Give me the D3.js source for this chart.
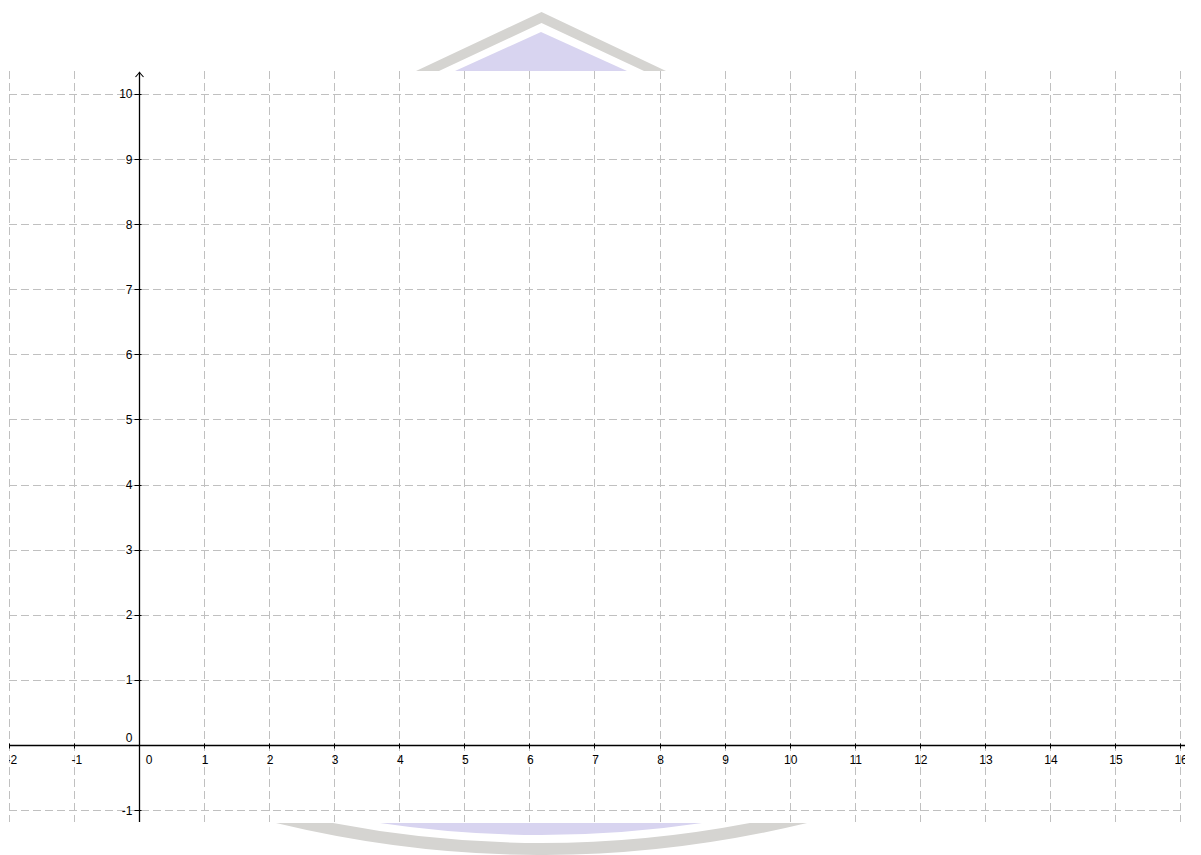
<!DOCTYPE html>
<html>
<head>
<meta charset="utf-8">
<script src="https://cdn.jsdelivr.net/npm/d3@7"></script>
<style>
  html, body { margin: 0; padding: 0; background: #fff; }
  svg { display: block; }
  text { font-family: "Liberation Sans", Arial, sans-serif; font-size: 12px; fill: #000; }
</style>
</head>
<body>
<script>
// ---- data (in graph units) ----
const xTicks = [-2,-1,0,1,2,3,4,5,6,7,8,9,10,11,12,13,14,15,16];
const yTicks = [-1,0,1,2,3,4,5,6,7,8,9,10];
const xDomain = [-1.998, 16.075];   // visible window, x
const yDomain = [-1.183, 10.353];   // visible window, y

// decorative shapes around the panel (graph units)
const topOuter = [[4.257,10.353],[6.186,11.26],[8.099,10.353]];
const topInner = [[7.761,10.353],[6.186,11.09],[4.610,10.353]];
const topFill  = [[4.856,10.353],[6.178,10.952],[7.50,10.353]];
// bottom arcs: [left x, right x, top y, lowest y at centre]
const botOuter = [2.105, 10.266, -1.198, -1.690];
const botInner = [2.981, 9.387, -1.198, -1.505];
const botFill  = [3.704, 8.652, -1.198, -1.382];

// ---- layout ----
const W = 1201, H = 855;
const panel = {left: 9, right: 1185, top: 71, bottom: 822};

const svg = d3.select("body").append("svg").attr("width", W).attr("height", H);
const x = d3.scaleLinear().domain(xDomain).range([panel.left, panel.right]);
const y = d3.scaleLinear().domain(yDomain).range([panel.bottom, panel.top]);

const GRAY = "#d5d4d1", LAV = "#d8d4f0";

// top chevron
const line = d3.line().x(d => x(d[0])).y(d => y(d[1]));
svg.append("path").attr("d", line(topOuter.concat(topInner)) + "Z")
  .attr("fill", GRAY).attr("stroke", "none");
svg.append("path").attr("d", line(topFill) + "Z").attr("fill", LAV);

// bottom arcs
function arcPath(a, b) {
  const p = d3.path();
  const cx = (a[0] + a[1]) / 2;
  p.moveTo(x(a[0]), y(a[2]));
  p.quadraticCurveTo(x(cx), y(2 * a[3] - a[2]), x(a[1]), y(a[2]));
  if (b) {
    const cx2 = (b[0] + b[1]) / 2;
    p.lineTo(x(b[1]), y(b[2]));
    p.quadraticCurveTo(x(cx2), y(2 * b[3] - b[2]), x(b[0]), y(b[2]));
  }
  p.closePath();
  return p.toString();
}
svg.append("path").attr("d", arcPath(botOuter, botInner)).attr("fill", GRAY);
svg.append("path").attr("d", arcPath(botFill)).attr("fill", LAV);

// panel
const g = svg.append("g");
g.append("defs").append("clipPath").attr("id", "clip")
  .append("rect").attr("x", panel.left).attr("y", panel.top)
  .attr("width", panel.right - panel.left).attr("height", panel.bottom - panel.top);
const pg = g.append("g").attr("clip-path", "url(#clip)");
pg.append("rect").attr("x", panel.left).attr("y", panel.top)
  .attr("width", panel.right - panel.left).attr("height", panel.bottom - panel.top)
  .attr("fill", "#fff");

// grid
pg.selectAll("line.gv").data(xTicks).join("line").attr("class", "gv")
  .attr("x1", d => Math.round(x(d)) + 0.5).attr("x2", d => Math.round(x(d)) + 0.5)
  .attr("y1", panel.top).attr("y2", panel.bottom)
  .attr("stroke", "#c0c0c0").attr("stroke-width", 1).attr("stroke-dasharray", "8,4");
pg.selectAll("line.gh").data(yTicks).join("line").attr("class", "gh")
  .attr("y1", d => Math.round(y(d)) + 0.5).attr("y2", d => Math.round(y(d)) + 0.5)
  .attr("x1", panel.left).attr("x2", panel.right)
  .attr("stroke", "#c0c0c0").attr("stroke-width", 1).attr("stroke-dasharray", "8,4");

// axes
const x0 = Math.round(x(0)) + 0.5, y0 = Math.round(y(0)) + 0.5;
pg.append("line").attr("x1", panel.left).attr("x2", panel.right)
  .attr("y1", y0).attr("y2", y0).attr("stroke", "#000").attr("stroke-width", 1.3);
pg.append("line").attr("x1", x0).attr("x2", x0)
  .attr("y1", panel.bottom).attr("y2", panel.top + 1).attr("stroke", "#000").attr("stroke-width", 1.3);
// arrow on y axis
pg.append("path").attr("d", `M${x0-4},${panel.top+6}L${x0},${panel.top+1.5}L${x0+4},${panel.top+6}`)
  .attr("fill", "none").attr("stroke", "#000").attr("stroke-width", 1.1);

// x ticks & labels
pg.selectAll("line.xt").data(xTicks.filter(d => d !== 0)).join("line").attr("class", "xt")
  .attr("x1", d => Math.round(x(d)) + 0.5).attr("x2", d => Math.round(x(d)) + 0.5)
  .attr("y1", y0 - 2).attr("y2", y0 + 3).attr("stroke", "#000");
pg.selectAll("text.xl").data(xTicks).join("text").attr("class", "xl")
  .attr("x", d => d === 0 ? x(d) + 10 : (d < 0 ? x(d) + 3 : x(d) + 1))
  .attr("y", y0 + 18)
  .attr("text-anchor", "middle")
  .text(d => d);

// y ticks & labels
pg.selectAll("line.yt").data(yTicks.filter(d => d !== 0)).join("line").attr("class", "yt")
  .attr("y1", d => Math.round(y(d)) + 0.5).attr("y2", d => Math.round(y(d)) + 0.5)
  .attr("x1", x0 - 5).attr("x2", x0 + 2).attr("stroke", "#000");
pg.selectAll("text.yl").data(yTicks).join("text").attr("class", "yl")
  .attr("x", x0 - 7)
  .attr("y", d => d === 0 ? y(d) - 3 : y(d) + 4.5)
  .attr("text-anchor", "end")
  .text(d => d);
</script>
</body>
</html>
